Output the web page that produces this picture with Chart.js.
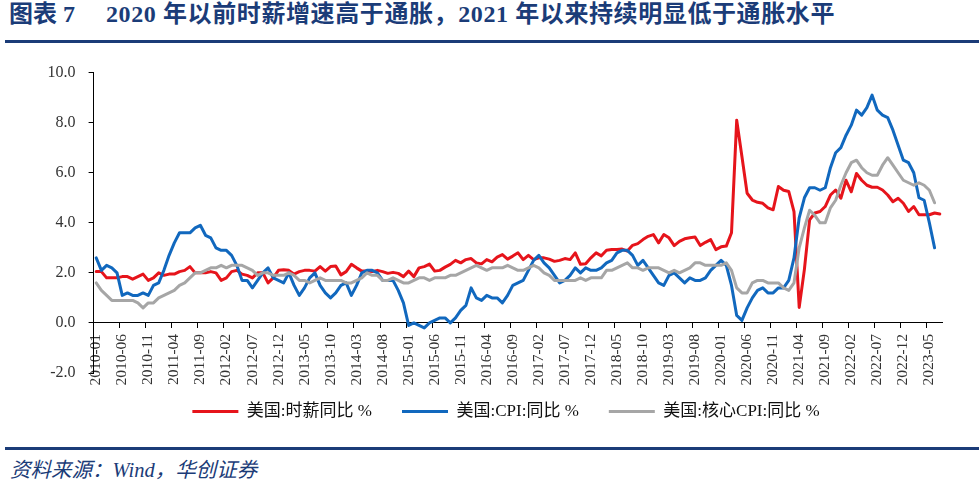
<!DOCTYPE html>
<html>
<head>
<meta charset="utf-8">
<script src="https://cdn.jsdelivr.net/npm/chart.js@4.4.0/dist/chart.umd.min.js"></script>
<style>
  html, body { margin: 0; padding: 0; background: #fff; }
  body { width: 979px; height: 484px; position: relative; overflow: hidden;
         font-family: "Liberation Serif", "Noto Sans CJK SC", serif; }
  #title { position: absolute; left: 9px; top: -6px; font-size: 24px; font-weight: bold;
           color: #1b3c78; white-space: nowrap; }
  #title .rest { position: absolute; left: 97px; top: 0; letter-spacing: 0.6px; }
  .rule { position: absolute; left: 5px; right: 0; height: 3px; background: #1b3c78; }
  #src { position: absolute; left: 10px; top: 453px; font-size: 20.5px; font-style: italic;
         color: #1b3c78; white-space: nowrap; }
  #wrap { position: absolute; left: 0; top: 50px; width: 1012px; height: 384px; }
</style>
</head>
<body>
<div id="title"><span>图表 7</span><span class="rest">2020 年以前时薪增速高于通胀，2021 年以来持续明显低于通胀水平</span></div>
<div class="rule" style="top:40px"></div>
<div id="wrap"><canvas id="chart" width="1012" height="384"></canvas></div>
<div class="rule" style="top:447px"></div>
<div id="src">资料来源：Wind，华创证券</div>

<script>
// 月份：2010-01 到 2023-07
const months = [];
for (let y = 2010; y <= 2023; y++) {
    for (let m = 1; m <= 12; m++) {
        if (y === 2023 && m > 7) break;
        months.push(y + '-' + String(m).padStart(2, '0'));
    }
}

const seriesNames = ['美国:时薪同比 %', '美国:CPI:同比 %', '美国:核心CPI:同比 %'];

// 美国:时薪同比 %
const wageYoY = [
    2.05, 2.05, 1.8, 1.8, 1.8, 1.85, 1.85, 1.75, 1.85, 1.95, 1.7, 1.8,
    2.0, 1.9, 1.95, 1.95, 2.05, 2.1, 2.25, 2.0, 2.0, 2.0, 2.05, 2.0,
    1.7, 1.8, 2.05, 2.1, 1.95, 1.9, 1.8, 2.0, 2.0, 1.6, 1.8, 2.1,
    2.12, 2.1, 1.95, 2.05, 2.1, 2.1, 2.07, 2.25, 2.07, 2.25, 2.27, 1.92,
    2.05, 2.34, 2.2, 2.07, 2.07, 2.05, 2.1, 2.05, 1.98, 2.02, 1.98, 1.85,
    2.07, 1.85, 2.2, 2.25, 2.35, 2.07, 2.1, 2.23, 2.34, 2.5, 2.4, 2.53,
    2.57, 2.4, 2.36, 2.53, 2.44, 2.63, 2.73, 2.55, 2.67, 2.8, 2.53, 2.7,
    2.53, 2.6, 2.6, 2.55, 2.46, 2.5, 2.57, 2.53, 2.8, 2.34, 2.36, 2.6,
    2.8, 2.68, 2.9, 2.93, 2.93, 2.95, 2.87, 3.1, 3.17, 3.33, 3.46, 3.53,
    3.2, 3.53, 3.4, 3.09, 3.26, 3.36, 3.4, 3.43, 3.09, 3.22, 3.33, 2.93,
    3.04, 3.07, 3.6, 8.1, 6.65, 5.18, 4.91, 4.82, 4.78, 4.6, 4.52, 5.45,
    5.3, 5.25, 4.45, 0.62, 2.14, 4.12, 4.39, 4.45, 4.65, 5.11, 5.31, 4.98,
    5.7, 5.24, 5.97, 5.7, 5.5, 5.42, 5.42, 5.31, 5.11, 4.84, 4.98, 4.78,
    4.45, 4.65, 4.32, 4.32, 4.32, 4.39, 4.35
];

// 美国:CPI:同比 %
const cpiYoY = [
    2.6, 2.1, 2.3, 2.2, 2.0, 1.1, 1.2, 1.1, 1.1, 1.2, 1.1, 1.5,
    1.6, 2.1, 2.7, 3.2, 3.6, 3.6, 3.6, 3.8, 3.9, 3.5, 3.4, 3.0,
    2.9, 2.9, 2.7, 2.3, 1.7, 1.7, 1.4, 1.7, 2.0, 2.2, 1.8, 1.7,
    1.6, 2.0, 1.5, 1.1, 1.4, 1.8, 2.0, 1.5, 1.2, 1.0, 1.2, 1.5,
    1.6, 1.1, 1.5, 2.0, 2.1, 2.1, 2.0, 1.7, 1.7, 1.7, 1.3, 0.8,
    -0.1, 0.0, -0.1, -0.2, 0.0, 0.1, 0.2, 0.2, 0.0, 0.2, 0.5, 0.7,
    1.4, 1.0, 0.9, 1.1, 1.0, 1.0, 0.8, 1.1, 1.5, 1.6, 1.7, 2.1,
    2.5, 2.7, 2.4, 2.2, 1.9, 1.6, 1.7, 1.9, 2.2, 2.0, 2.2, 2.1,
    2.1, 2.2, 2.4, 2.5, 2.8, 2.9, 2.9, 2.7, 2.3, 2.5, 2.2, 1.9,
    1.6, 1.5, 1.9, 2.0, 1.8, 1.6, 1.8, 1.7, 1.7, 1.8, 2.1, 2.3,
    2.5, 2.3, 1.5, 0.3, 0.1, 0.6, 1.0, 1.3, 1.4, 1.2, 1.2, 1.4,
    1.4, 1.7, 2.6, 4.2, 5.0, 5.4, 5.4, 5.3, 5.4, 6.2, 6.8, 7.0,
    7.5, 7.9, 8.5, 8.3, 8.6, 9.1, 8.5, 8.3, 8.2, 7.7, 7.1, 6.5,
    6.4, 6.0, 5.0, 4.9, 4.0, 3.0
];

// 美国:核心CPI:同比 %
const coreCpiYoY = [
    1.6, 1.3, 1.1, 0.9, 0.9, 0.9, 0.9, 0.9, 0.8, 0.6, 0.8, 0.8,
    1.0, 1.1, 1.2, 1.3, 1.5, 1.6, 1.8, 2.0, 2.0, 2.1, 2.2, 2.2,
    2.3, 2.2, 2.3, 2.3, 2.3, 2.2, 2.1, 1.9, 2.0, 2.0, 1.9, 1.9,
    1.9, 2.0, 1.9, 1.7, 1.7, 1.6, 1.7, 1.8, 1.7, 1.7, 1.7, 1.7,
    1.6, 1.6, 1.7, 1.8, 2.0, 1.9, 1.9, 1.7, 1.7, 1.8, 1.7, 1.6,
    1.6, 1.7, 1.8, 1.8, 1.7, 1.8, 1.8, 1.8, 1.9, 1.9, 2.0, 2.1,
    2.2, 2.3, 2.2, 2.1, 2.2, 2.2, 2.2, 2.3, 2.2, 2.1, 2.1, 2.2,
    2.3, 2.2, 2.0, 1.9, 1.7, 1.7, 1.7, 1.7, 1.7, 1.8, 1.7, 1.8,
    1.8, 1.8, 2.1, 2.1, 2.2, 2.3, 2.4, 2.2, 2.2, 2.1, 2.2, 2.2,
    2.2, 2.1, 2.0, 2.1, 2.0, 2.1, 2.2, 2.4, 2.4, 2.3, 2.3, 2.3,
    2.3, 2.4, 2.1, 1.4, 1.2, 1.2, 1.6, 1.7, 1.7, 1.6, 1.6, 1.6,
    1.4, 1.3, 1.6, 3.0, 3.8, 4.5, 4.3, 4.0, 4.0, 4.6, 4.9, 5.5,
    6.0, 6.4, 6.5, 6.2, 6.0, 5.9, 5.9, 6.3, 6.6, 6.3, 6.0, 5.7,
    5.6, 5.5, 5.6, 5.5, 5.3, 4.8
];

const yTicks = [-2, 0, 2, 4, 6, 8, 10];
const lineColors = ['#e6141b', '#1168be', '#a6a6a6'];

const serif = "'Liberation Serif', 'Noto Sans CJK SC', serif";

new Chart(document.getElementById('chart'), {
    type: 'line',
    data: {
        labels: months,
        datasets: [
            { label: seriesNames[0], data: wageYoY, borderColor: lineColors[0], backgroundColor: lineColors[0], order: 3 },
            { label: seriesNames[1], data: cpiYoY, borderColor: lineColors[1], backgroundColor: lineColors[1], order: 2 },
            { label: seriesNames[2], data: coreCpiYoY, borderColor: lineColors[2], backgroundColor: lineColors[2], order: 1 }
        ]
    },
    options: {
        responsive: false,
        animation: false,
        devicePixelRatio: 1,
        layout: { padding: { left: 0, right: 0, top: 14, bottom: 4 } },
        elements: {
            line: { borderWidth: 3, tension: 0, borderJoinStyle: 'round', borderCapStyle: 'round' },
            point: { radius: 0, hoverRadius: 0 }
        },
        scales: {
            x: {
                type: 'category',
                position: { y: 0 },
                offset: true,
                grid: {
                    offset: true,
                    drawOnChartArea: false,
                    tickLength: 5,
                    tickColor: ctx => (ctx.index % 5 === 0 ? '#000' : 'rgba(0,0,0,0)')
                },
                border: { color: '#000', width: 1 },
                ticks: {
                    autoSkip: false,
                    minRotation: 90,
                    maxRotation: 90,
                    padding: 6,
                    color: '#333',
                    font: { family: serif, size: 15.5 },
                    callback: (v, i) => (i % 5 === 0 ? months[i] : '')
                }
            },
            y: {
                min: yTicks[0],
                max: yTicks[yTicks.length - 1],
                afterBuildTicks: s => { s.ticks = yTicks.map(v => ({ value: v })); },
                afterFit: s => { s.width = 93.6; },
                grid: { drawOnChartArea: false, tickLength: 5, tickColor: '#000' },
                border: { color: '#000', width: 1 },
                ticks: {
                    padding: 13,
                    color: '#333',
                    font: { family: serif, size: 16 },
                    callback: v => Number(v).toFixed(1)
                }
            },
            // 右侧留白，让图例居中位置与原图一致
            yPad: {
                position: 'right',
                grid: { display: false },
                border: { display: false },
                ticks: { display: false },
                afterFit: s => { s.width = 69.6; }
            }
        },
        plugins: {
            tooltip: { enabled: false },
            legend: {
                position: 'bottom',
                labels: {
                    boxWidth: 46,
                    boxHeight: 3,
                    padding: 30,
                    color: '#111',
                    font: { family: serif, size: 17 },
                    sort: (a, b) => a.datasetIndex - b.datasetIndex,
                    // 图例只画一条色线，不描边
                    generateLabels: chart => Chart.defaults.plugins.legend.labels.generateLabels(chart)
                        .map(item => Object.assign(item, {
                            fillStyle: lineColors[item.datasetIndex],
                            strokeStyle: lineColors[item.datasetIndex],
                            lineWidth: 0
                        }))
                }
            }
        }
    }
});
</script>
</body>
</html>
